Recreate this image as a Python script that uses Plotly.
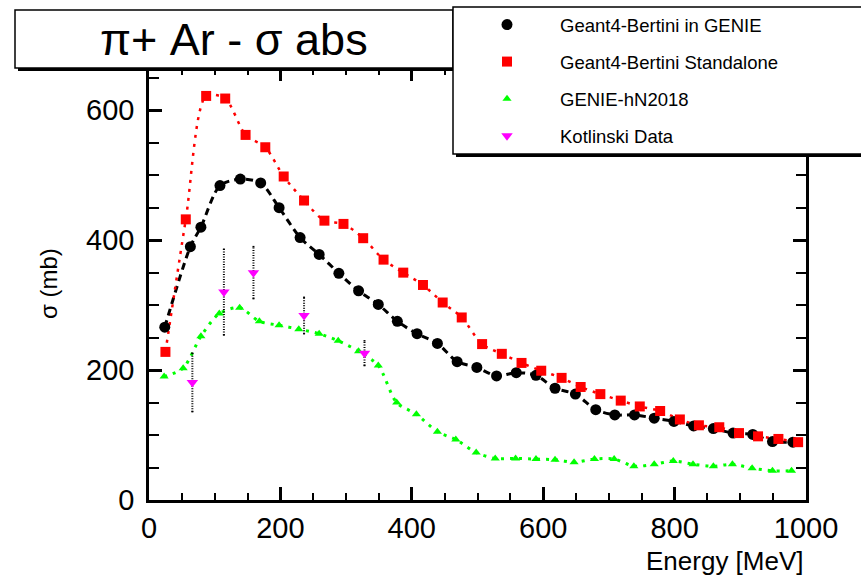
import plotly.graph_objects as go

# ---------------- data ----------------
e_g4_genie = [24, 63, 79, 108, 139, 170, 198, 230, 259, 289, 319, 349, 378, 408, 439, 469, 499,
              529, 559, 589, 618, 649, 680, 709, 739, 769, 799, 829, 859, 889, 919, 949, 980]
s_g4_genie = [266, 390, 420, 484, 494, 488, 450, 404, 378, 349, 322, 301, 275, 256, 241, 213, 204,
              191, 196, 192, 172, 163, 139, 131, 131, 126, 121, 114, 110, 103, 101, 90, 89]

e_g4_sa = [25, 56, 87, 116, 147, 177, 205, 236, 267, 296, 326, 357, 387, 417, 447, 476, 507,
           537, 567, 597, 628, 657, 687, 718, 747, 778, 808, 837, 868, 898, 927, 958, 988]
s_g4_sa = [228, 432, 622, 618, 562, 543, 498, 461, 430, 425, 403, 370, 350, 331, 304, 281, 240,
           225, 211, 199, 188, 174, 163, 153, 144, 137, 124, 115, 112, 103, 98, 94, 89]

e_hn = [23, 52, 79, 107, 138, 168, 198, 228, 259, 288, 319, 349, 377, 407, 439, 467, 498,
        527, 558, 589, 618, 647, 678, 708, 738, 769, 798, 828, 859, 888, 918, 949, 978]
s_hn = [190, 203, 252, 287, 296, 275, 269, 263, 256, 245, 229, 207, 150, 132, 105, 93, 73,
        64, 64, 63, 62, 58, 63, 63, 52, 55, 60, 55, 52, 55, 49, 45, 45]

e_kot = [66, 114, 159, 236, 328]
s_kot = [181, 320, 350, 284, 226]
err_kot = [45, 66, 40, 28, 19]

names = ["Geant4-Bertini in GENIE", "Geant4-Bertini Standalone", "GENIE-hN2018", "Kotlinski Data"]
title_text = "\u03c0+ Ar - \u03c3 abs"
x_title = "Energy [MeV]"
y_title = "\u03c3 (mb)"

# ---------------- layout geometry ----------------
W, H = 861, 575
L, R, T, B = 149, 806, 68, 500   # plot area in pixels


def px2x(px):
    return (px - L) / (R - L)


def py2y(py):
    return (B - py) / (B - T)


FONT = "Liberation Sans, Arial, Helvetica, sans-serif"

fig = go.Figure()

# smooth dashed lines (no legend)
fig.add_trace(go.Scatter(x=e_g4_genie, y=s_g4_genie, mode="lines", showlegend=False,
                         line=dict(color="black", width=3, dash="7px,5px", shape="spline", smoothing=0.8),
                         hoverinfo="skip"))
fig.add_trace(go.Scatter(x=e_g4_sa, y=s_g4_sa, mode="lines", showlegend=False,
                         line=dict(color="#ff0000", width=2.5, dash="3px,6px", shape="spline", smoothing=0.8),
                         hoverinfo="skip"))
fig.add_trace(go.Scatter(x=e_hn, y=s_hn, mode="lines", showlegend=False,
                         line=dict(color="#00ff00", width=3, dash="3px,6px", shape="spline", smoothing=0.8),
                         hoverinfo="skip"))

# dotted error bars for Kotlinski data
ex, ey, cx, cy = [], [], [], []
for e, s, d in zip(e_kot, s_kot, err_kot):
    ex += [e, e, None]
    ey += [s - d, s + d, None]
    cx += [e - 1.5, e + 1.5, None, e - 1.5, e + 1.5, None]
    cy += [s - d, s - d, None, s + d, s + d, None]
fig.add_trace(go.Scatter(x=ex, y=ey, mode="lines", showlegend=False, hoverinfo="skip",
                         line=dict(color="black", width=2, dash="1px,1.5px")))
fig.add_trace(go.Scatter(x=cx, y=cy, mode="lines", showlegend=False, hoverinfo="skip",
                         line=dict(color="black", width=1.5)))

# markers (with legend)
fig.add_trace(go.Scatter(x=e_g4_genie, y=s_g4_genie, mode="markers", name=names[0], legendgroup="a",
                         marker=dict(symbol="circle", size=11, color="black", line=dict(width=0))))
fig.add_trace(go.Scatter(x=e_g4_sa, y=s_g4_sa, mode="markers", name=names[1], legendgroup="b",
                         marker=dict(symbol="square", size=10, color="#ff0000", line=dict(width=0))))
fig.add_trace(go.Scatter(x=e_hn, y=s_hn, mode="markers", name=names[2], legendgroup="c",
                         marker=dict(symbol="triangle-up", size=8, color="#00ff00", line=dict(width=0))))
fig.add_trace(go.Scatter(x=e_kot, y=s_kot, mode="markers", name=names[3], legendgroup="d",
                         marker=dict(symbol="triangle-down", size=10, color="#ff00ff", line=dict(width=0))))

axis_common = dict(showgrid=False, zeroline=False, showline=True, linecolor="black", linewidth=2.5,
                   mirror="ticks", ticks="inside", tickcolor="black", tickwidth=2.5, ticklen=13,
                   tickfont=dict(family=FONT, size=29, color="black"))

fig.update_xaxes(range=[0, 1000], dtick=200, tick0=0,
                 minor=dict(ticks="inside", dtick=50, ticklen=7, tickwidth=2, tickcolor="black"),
                 **axis_common)
fig.update_yaxes(range=[0, 665], dtick=200, tick0=0, ticklabelstandoff=6,
                 minor=dict(ticks="inside", dtick=50, ticklen=10, tickwidth=2, tickcolor="black"),
                 **axis_common)

shapes = [
    # title box shadow + box
    dict(type="rect", xref="paper", yref="paper", layer="above",
         x0=px2x(18), x1=px2x(456), y0=py2y(13), y1=py2y(71),
         fillcolor="black", line=dict(width=0)),
    dict(type="rect", xref="paper", yref="paper", layer="above",
         x0=px2x(15), x1=px2x(453), y0=py2y(10), y1=py2y(68),
         fillcolor="white", line=dict(color="black", width=1.5)),
    # legend box shadow + box
    dict(type="rect", xref="paper", yref="paper", layer="above",
         x0=px2x(456), x1=px2x(880), y0=py2y(10), y1=py2y(157),
         fillcolor="black", line=dict(width=0)),
    dict(type="rect", xref="paper", yref="paper", layer="above",
         x0=px2x(453), x1=px2x(875), y0=py2y(7), y1=py2y(154),
         fillcolor="white", line=dict(color="black", width=1.5)),
]

annotations = [
    dict(text=title_text, xref="paper", yref="paper", x=px2x(234), y=py2y(40),
         xanchor="center", yanchor="middle", showarrow=False,
         font=dict(family=FONT, size=45, color="black")),
    dict(text=x_title, xref="paper", yref="paper", x=px2x(806), y=py2y(561),
         xanchor="right", yanchor="middle", showarrow=False,
         font=dict(family=FONT, size=26, color="black")),
    dict(text=y_title, xref="paper", yref="paper", x=px2x(48), y=py2y(284),
         xanchor="center", yanchor="middle", showarrow=False, textangle=-90,
         font=dict(family=FONT, size=24, color="black")),
]

fig.update_layout(
    width=W, height=H,
    margin=dict(l=L, r=W - R, t=T, b=H - B, pad=0, autoexpand=False),
    paper_bgcolor="white", plot_bgcolor="white",
    shapes=shapes, annotations=annotations,
    showlegend=True,
    legend=dict(x=px2x(454), y=py2y(6), xanchor="left", yanchor="top",
                bgcolor="rgba(0,0,0,0)", borderwidth=0, itemwidth=96,
                tracegroupgap=10, traceorder="grouped",
                font=dict(family=FONT, size=18.5, color="black")),
)

fig.write_html("out.html")
